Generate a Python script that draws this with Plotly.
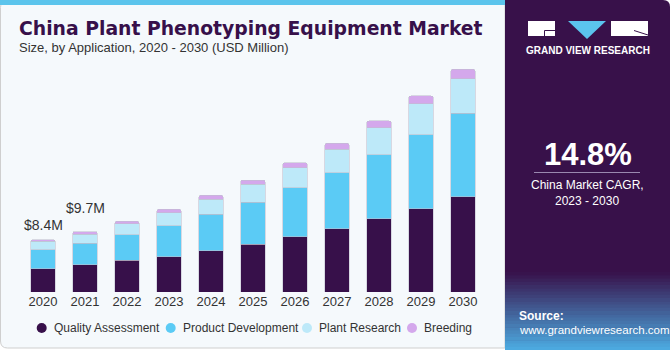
import plotly.graph_objects as go

# ---------------- data ----------------
years = ["2020", "2021", "2022", "2023", "2024", "2025", "2026", "2027", "2028", "2029", "2030"]
series_names = ["Quality Assessment", "Product Development", "Plant Research", "Breeding"]
quality_assessment = [3.72, 4.35, 5.09, 5.62, 6.63, 7.70, 8.88, 10.16, 11.72, 13.37, 15.30]
product_development = [3.07, 3.50, 4.06, 4.98, 5.84, 6.74, 7.82, 8.99, 10.32, 11.83, 13.39]
plant_research = [1.34, 1.43, 1.81, 2.13, 2.41, 2.89, 3.26, 3.76, 4.33, 5.02, 5.55]
breeding = [0.27, 0.42, 0.39, 0.55, 0.64, 0.64, 0.80, 0.96, 1.08, 1.24, 1.51]
labelled_years = ["2020", "2021"]
cagr_text = "14.8%"

colors = ["#37104A", "#5BCBF5", "#BDE9F9", "#D4A8EC"]
values = [quality_assessment, product_development, plant_research, breeding]

# ---------------- layout geometry (pixels) ----------------
W, H = 670, 350
L, R, T, B = 22, 484, 43, 292
PW, PH = R - L, B - T


def px(x):
    return (x - L) / PW


def py(y):
    return (B - y) / PH


fig = go.Figure()
for name, vals, col in zip(series_names, values, colors):
    fig.add_trace(go.Bar(
        x=years, y=vals, name=name, marker_color=col,
        marker_line=dict(color="rgba(190,190,205,0.7)", width=0.8),
        showlegend=False, hoverinfo="x+y+name",
    ))

totals = [sum(v) for v in zip(*values)]

shapes = []
annotations = []

# card background
r = 7
x0, x1, y0, y1 = 0.5, 505, 0.5, 348
card_path = (f"M {px(x0+r)},{py(y0)} L {px(x1)},{py(y0)} L {px(x1)},{py(y1)} "
             f"L {px(x0+r)},{py(y1)} Q {px(x0)},{py(y1)} {px(x0)},{py(y1-r)} "
             f"L {px(x0)},{py(y0+r)} Q {px(x0)},{py(y0)} {px(x0+r)},{py(y0)} Z")
shapes.append(dict(type="path", xref="paper", yref="paper", path=card_path,
                   fillcolor="#F5F9FC", line=dict(color="#CFCFCF", width=1), layer="below"))
# top stripe
shapes.append(dict(type="rect", xref="paper", yref="paper", x0=px(0), x1=px(505), y0=py(0), y1=py(5),
                   fillcolor="#5BC4EC", line=dict(width=0), layer="below"))

# right panel
x0, x1, y0, y1 = 505, 670, 0, 350
rp = (f"M {px(x0)},{py(y0)} L {px(x1-r)},{py(y0)} Q {px(x1)},{py(y0)} {px(x1)},{py(y0+r)} "
      f"L {px(x1)},{py(y1)} L {px(x0)},{py(y1)} Z")
shapes.append(dict(type="path", xref="paper", yref="paper", path=rp,
                   fillcolor="#38114A", line=dict(width=0), layer="below"))

# gradient source box
n = 24
gy0, gy1 = 272, 350
c0 = (0x38, 0x11, 0x4A)
c1 = (0x4D, 0xAD, 0xE3)
for i in range(n):
    t = (i + 0.5) / n
    c = tuple(int(c0[k] + (c1[k] - c0[k]) * t) for k in range(3))
    ya = gy0 + (gy1 - gy0) * i / n
    yb = gy0 + (gy1 - gy0) * (i + 1) / n + 0.5
    shapes.append(dict(type="rect", xref="paper", yref="paper", x0=px(505), x1=px(670),
                       y0=py(ya), y1=py(yb), fillcolor="rgb(%d,%d,%d)" % c,
                       line=dict(width=0), layer="below"))

# logo
shapes.append(dict(type="rect", xref="paper", yref="paper", x0=px(528), x1=px(555), y0=py(21), y1=py(36),
                   fillcolor="white", line=dict(width=0)))
shapes.append(dict(type="rect", xref="paper", yref="paper", x0=px(611), x1=px(648), y0=py(21), y1=py(36),
                   fillcolor="white", line=dict(width=0)))
shapes.append(dict(type="path", xref="paper", yref="paper",
                   path=f"M {px(568)},{py(21)} L {px(606)},{py(21)} L {px(587)},{py(39)} Z",
                   fillcolor="#5BC4EE", line=dict(width=0)))
shapes.append(dict(type="path", xref="paper", yref="paper",
                   path=f"M {px(555)},{py(30.5)} L {px(544.5)},{py(30.5)} L {px(544.5)},{py(36)}",
                   line=dict(color="#38114A", width=1)))
shapes.append(dict(type="line", xref="paper", yref="paper", x0=px(634), y0=py(30.5), x1=px(648), y1=py(35),
                   line=dict(color="#38114A", width=1)))
# CAGR separator
shapes.append(dict(type="line", xref="paper", yref="paper", x0=px(534), y0=py(172.5), x1=px(640), y1=py(172.5),
                   line=dict(color="#9A88B0", width=1)))

# manual legend (circles + labels)
leg_x = [41.7, 170.7, 307, 412]
leg_y = 328
for name, col, lx in zip(series_names, colors, leg_x):
    shapes.append(dict(type="circle", xref="paper", yref="paper",
                       x0=px(lx - 5), x1=px(lx + 5), y0=py(leg_y - 5), y1=py(leg_y + 5),
                       fillcolor=col, line=dict(width=0)))
    annotations.append(dict(text=name, xref="paper", yref="paper", x=px(lx + 10), y=py(leg_y),
                            xanchor="left", yanchor="middle", showarrow=False,
                            font=dict(family="Liberation Sans, Arial", size=12, color="#333333")))

# title texts
annotations.append(dict(text="<b>China Plant Phenotyping Equipment Market</b>", xref="paper", yref="paper",
                        x=px(17), y=py(28.5), xanchor="left", yanchor="middle", showarrow=False,
                        font=dict(family="DejaVu Sans", size=18.8, color="#37104A")))
annotations.append(dict(text="Size, by Application, 2020 - 2030 (USD Million)", xref="paper", yref="paper",
                        x=px(17), y=py(47.5), xanchor="left", yanchor="middle", showarrow=False,
                        font=dict(family="Liberation Sans, Arial", size=13, color="#333333")))

# value labels (anchored to the stacked totals)
shifts = {"2020": 15, "2021": 24}
for yr in labelled_years:
    i = years.index(yr)
    annotations.append(dict(text=f"${totals[i]:.1f}M", x=i, y=totals[i], xref="x", yref="y",
                            yshift=shifts[yr], xanchor="center", yanchor="middle", showarrow=False,
                            font=dict(family="Liberation Sans, Arial", size=14, color="#333333")))

# right panel texts
annotations.append(dict(text="<b>GRAND VIEW RESEARCH</b>", xref="paper", yref="paper", x=px(588), y=py(50.5),
                        xanchor="center", yanchor="middle", showarrow=False,
                        font=dict(family="Liberation Sans, Arial", size=10, color="white")))
annotations.append(dict(text=f"<b>{cagr_text}</b>", xref="paper", yref="paper", x=px(588), y=py(154),
                        xanchor="center", yanchor="middle", showarrow=False,
                        font=dict(family="Liberation Sans, Arial", size=31, color="white")))
annotations.append(dict(text="China Market CAGR,", xref="paper", yref="paper", x=px(587), y=py(184.5),
                        xanchor="center", yanchor="middle", showarrow=False,
                        font=dict(family="Liberation Sans, Arial", size=12, color="white")))
annotations.append(dict(text="2023 - 2030", xref="paper", yref="paper", x=px(587), y=py(201),
                        xanchor="center", yanchor="middle", showarrow=False,
                        font=dict(family="Liberation Sans, Arial", size=12, color="white")))
annotations.append(dict(text="<b>Source:</b>", xref="paper", yref="paper", x=px(517), y=py(316),
                        xanchor="left", yanchor="middle", showarrow=False,
                        font=dict(family="Liberation Sans, Arial", size=12, color="white")))
annotations.append(dict(text="www.grandviewresearch.com", xref="paper", yref="paper", x=px(517), y=py(329.5),
                        xanchor="left", yanchor="middle", showarrow=False,
                        font=dict(family="Liberation Sans, Arial", size=11.5, color="white")))

fig.update_layout(
    width=W, height=H,
    margin=dict(l=L, r=W - R, t=T, b=H - B, pad=0),
    barmode="stack", bargap=0.42, barcornerradius=2,
    paper_bgcolor="white", plot_bgcolor="rgba(0,0,0,0)",
    showlegend=False,
    shapes=shapes, annotations=annotations,
    xaxis=dict(type="category", showgrid=False, zeroline=False, showline=False, ticks="",
               tickfont=dict(family="Liberation Sans, Arial", size=13, color="#333333"),
               range=[-0.5, 10.5], fixedrange=True),
    yaxis=dict(range=[0, PH * 0.1605], visible=False, showgrid=False, zeroline=False, fixedrange=True),
)

fig.write_html("out.html", config={"displayModeBar": False})
